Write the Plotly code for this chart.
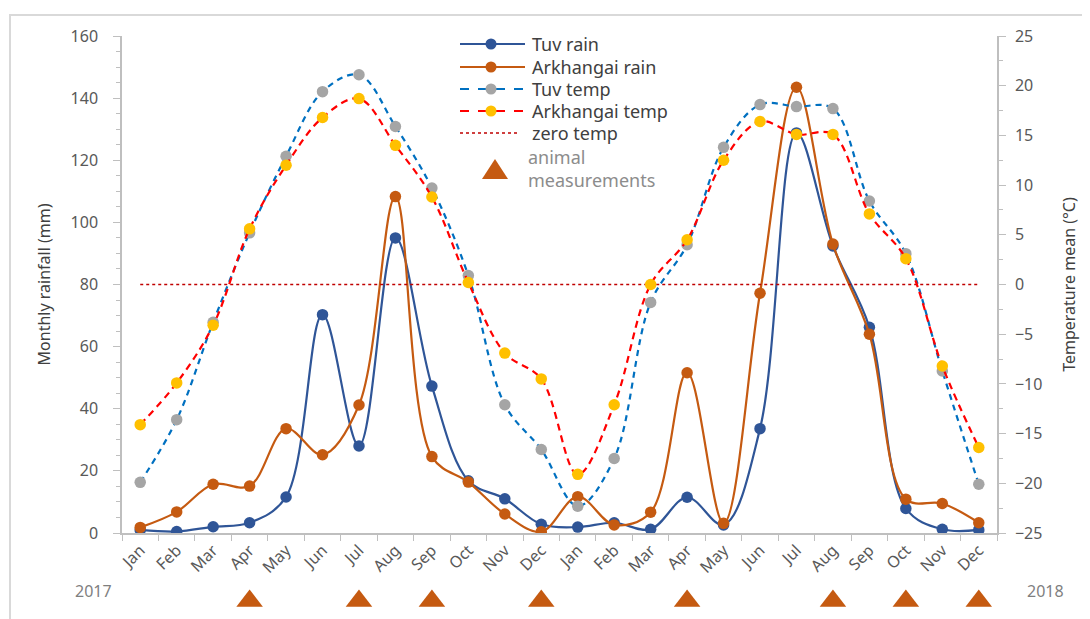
import plotly.graph_objects as go

months = ["Jan", "Feb", "Mar", "Apr", "May", "Jun", "Jul", "Aug", "Sep", "Oct", "Nov", "Dec"]
years = ["2017", "2018"]
categories = [f"{m} {y}" for y in years for m in months]
tick_text = months + months

tuv_rain = [1.0, 0.5, 2.0, 3.3, 11.6, 70.3, 28.0, 95.0, 47.3, 16.8, 11.0, 2.8,
            1.9, 3.3, 1.2, 11.5, 2.6, 33.6, 128.8, 92.4, 66.2, 7.9, 1.2, 1.0]
ark_rain = [1.8, 6.8, 15.7, 15.1, 33.6, 25.2, 41.2, 108.3, 24.6, 16.4, 6.1, 0.4,
            11.7, 2.6, 6.7, 51.6, 3.1, 77.2, 143.5, 93.0, 64.0, 10.9, 9.5, 3.3]
tuv_temp = [-19.9, -13.6, -3.8, 5.2, 12.9, 19.4, 21.1, 15.9, 9.7, 0.9, -12.1, -16.6,
            -22.3, -17.5, -1.8, 4.0, 13.8, 18.1, 17.9, 17.7, 8.4, 3.1, -8.7, -20.1]
ark_temp = [-14.1, -9.9, -4.1, 5.6, 12.0, 16.8, 18.7, 14.0, 8.8, 0.2, -6.9, -9.5,
            -19.1, -12.1, 0.0, 4.5, 12.5, 16.4, 15.1, 15.1, 7.1, 2.6, -8.2, -16.4]
zero_temp = [0] * 24
animal_months = ["Apr 2017", "Jul 2017", "Sep 2017", "Dec 2017",
                 "Apr 2018", "Aug 2018", "Oct 2018", "Dec 2018"]
animal_level = [0] * len(animal_months)

C_TUV_RAIN = "#2F5597"
C_ARK_RAIN = "#C55A11"
C_TUV_TEMP = "#0070C0"
C_TUV_MARK = "#A5A5A5"
C_ARK_TEMP = "#FF0000"
C_ARK_MARK = "#FFC000"
C_ZERO = "#C00000"
FONT = "Noto Sans"
TXT = "#595959"
AX = "#BFBFBF"

# page body has an 8px margin: target screen coords are shifted by OFF
OFF = 8
W, H = 1082, 611
PL, PR, PT, PB = 122, 997, 36, 533          # plot area in screen pixels
ML = PL - OFF
MR = W - (PR - OFF)
MT = PT - OFF
MB = 5
PW = W - ML - MR
PH = H - MT - MB

def px(x):
    return (x - OFF - ML) / PW

def py(y):
    return (H - MB - (y - OFF)) / PH

fig = go.Figure()

fig.add_trace(go.Scatter(x=categories, y=tuv_rain, name="Tuv rain", mode="lines+markers",
                         line=dict(color=C_TUV_RAIN, width=2.2, shape="spline", smoothing=1.0),
                         marker=dict(color=C_TUV_RAIN, size=11.5), yaxis="y", showlegend=False))
fig.add_trace(go.Scatter(x=categories, y=ark_rain, name="Arkhangai rain", mode="lines+markers",
                         line=dict(color=C_ARK_RAIN, width=2.2, shape="spline", smoothing=1.0),
                         marker=dict(color=C_ARK_RAIN, size=11.5), yaxis="y", showlegend=False))
fig.add_trace(go.Scatter(x=categories, y=zero_temp, name="zero temp", mode="lines",
                         line=dict(color=C_ZERO, width=1.5, dash="dot"),
                         yaxis="y2", showlegend=False))
fig.add_trace(go.Scatter(x=categories, y=tuv_temp, name="Tuv temp", mode="lines+markers",
                         line=dict(color=C_TUV_TEMP, width=2.2, dash="6px,5px", shape="spline", smoothing=1.0),
                         marker=dict(color=C_TUV_MARK, size=11.5), yaxis="y2", showlegend=False))
fig.add_trace(go.Scatter(x=categories, y=ark_temp, name="Arkhangai temp", mode="lines+markers",
                         line=dict(color=C_ARK_TEMP, width=2.2, dash="7px,5px", shape="spline", smoothing=1.0),
                         marker=dict(color=C_ARK_MARK, size=11.5), yaxis="y2", showlegend=False))
fig.add_trace(go.Scatter(x=animal_months, y=animal_level, name="animal measurements", mode="markers",
                         marker=dict(symbol="triangle-up", color=C_ARK_RAIN, size=23),
                         yaxis="y3", cliponaxis=False, showlegend=False))

main_bottom = py(PB)
tri_domain_top = py(560)
# triangle row centred at screen y=601
tri_frac = py(601) / tri_domain_top

fig.update_layout(
    width=W, height=H,
    margin=dict(l=ML, r=MR, t=MT, b=MB, autoexpand=False),
    paper_bgcolor="white", plot_bgcolor="white",
    font=dict(family=FONT, color=TXT),
    xaxis=dict(type="category", categoryorder="array", categoryarray=categories,
               range=[-0.5, len(categories) - 0.5],
               tickmode="array", tickvals=categories, ticktext=tick_text,
               tickangle=-45, tickson="boundaries", ticks="outside", ticklen=6,
               tickcolor=AX, showline=True, linecolor=AX, linewidth=1.5,
               showgrid=False, zeroline=False, anchor="y", automargin=False,
               tickfont=dict(size=16, color=TXT, family=FONT)),
    yaxis=dict(domain=[main_bottom, 1], range=[0, 160], dtick=20, showgrid=False,
               zeroline=False, showline=True, linecolor=AX, linewidth=1.5,
               ticks="outside", ticklen=7, tickcolor=AX, automargin=False,
               ticklabelstandoff=12,
               minor=dict(dtick=5, ticks="outside", ticklen=4, tickcolor=AX),
               tickfont=dict(size=16, color=TXT, family=FONT),
               title=dict(text="Monthly rainfall (mm)", font=dict(size=16, color="#404040", family=FONT), standoff=16)),
    yaxis2=dict(overlaying="y", side="right", anchor="x", range=[-25, 25], dtick=5,
                showgrid=False, zeroline=False, showline=True, linecolor=AX, linewidth=1.5,
                ticks="outside", ticklen=7, tickcolor=AX, automargin=False,
                ticklabelstandoff=6,
                minor=dict(dtick=2.5, ticks="outside", ticklen=4, tickcolor=AX),
                tickfont=dict(size=16, color=TXT, family=FONT),
                title=dict(text="Temperature mean (°C)", font=dict(size=16, color="#404040", family=FONT), standoff=22)),
    yaxis3=dict(domain=[0, tri_domain_top], range=[-tri_frac / (1 - tri_frac), 1],
                visible=False, anchor="x"),
)

shapes = []
annotations = []

# outer border
shapes.append(dict(type="rect", xref="paper", yref="paper",
                   x0=px(10), x1=px(1110), y0=py(640), y1=py(15),
                   line=dict(color="#D9D9D9", width=2), fillcolor="rgba(0,0,0,0)", layer="below"))

# manual legend
lx0, lx1, lmark, ltext = 460, 525, 491, 530
legend_rows = [
    ("Tuv rain", 44, C_TUV_RAIN, "solid", C_TUV_RAIN),
    ("Arkhangai rain", 67, C_ARK_RAIN, "solid", C_ARK_RAIN),
    ("Tuv temp", 89, C_TUV_TEMP, "dash", C_TUV_MARK),
    ("Arkhangai temp", 111, C_ARK_TEMP, "dash", C_ARK_MARK),
    ("zero temp", 133, C_ZERO, "dot", None),
]
for name, yy, lc, dash, mc in legend_rows:
    shapes.append(dict(type="line", xref="paper", yref="paper",
                       x0=px(lx0), x1=px(lx1 if dash != "dot" else 520), y0=py(yy), y1=py(yy),
                       line=dict(color=lc, width=2 if dash != "dot" else 1.5, dash=dash)))
    if mc:
        shapes.append(dict(type="circle", xref="paper", yref="paper",
                           xsizemode="pixel", ysizemode="pixel",
                           xanchor=px(lmark), yanchor=py(yy),
                           x0=-5.5, x1=5.5, y0=-5.5, y1=5.5,
                           fillcolor=mc, line=dict(color=mc, width=0)))
    annotations.append(dict(text=name, xref="paper", yref="paper", x=px(ltext), y=py(yy),
                            xanchor="left", yanchor="middle", showarrow=False,
                            font=dict(size=18, color="#404040", family=FONT)))

shapes.append(dict(type="path", xref="paper", yref="paper", xsizemode="pixel", ysizemode="pixel",
                   xanchor=px(495), yanchor=py(169),
                   path="M -13 -10 L 13 -10 L 0 10 Z",
                   fillcolor=C_ARK_RAIN, line=dict(color=C_ARK_RAIN, width=0)))
annotations.append(dict(text="animal<br>measurements", xref="paper", yref="paper",
                        x=px(526), y=py(169), xanchor="left", yanchor="middle", align="left",
                        showarrow=False, font=dict(size=18, color="#8C8C8C", family=FONT)))

# year labels
annotations.append(dict(text="2017", xref="paper", yref="paper", x=px(93), y=py(591),
                        xanchor="center", yanchor="middle", showarrow=False,
                        font=dict(size=16, color="#7F7F7F", family=FONT)))
annotations.append(dict(text="2018", xref="paper", yref="paper", x=px(1045), y=py(591),
                        xanchor="center", yanchor="middle", showarrow=False,
                        font=dict(size=16, color="#7F7F7F", family=FONT)))

fig.update_layout(shapes=shapes, annotations=annotations)

fig.write_html("out.html")
